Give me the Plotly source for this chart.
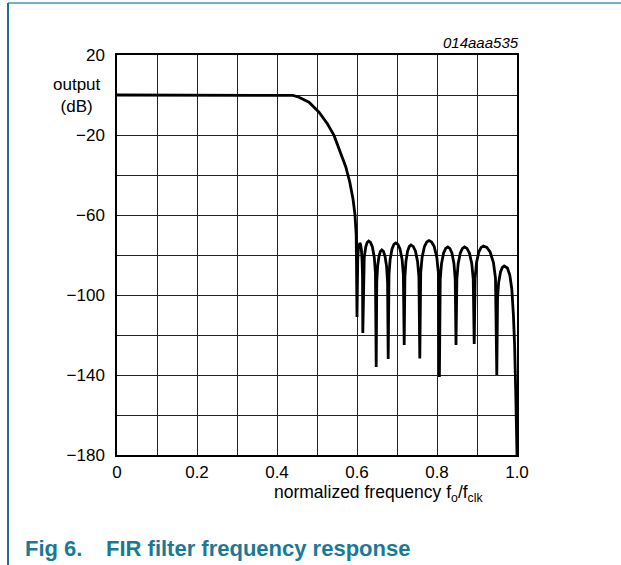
import plotly.graph_objects as go

# ---- data ----
freq = [0.0, 0.1, 0.2, 0.3, 0.4, 0.42, 0.44, 0.455, 0.48, 0.505, 0.526, 0.5425, 0.559, 0.572,
        0.582, 0.59, 0.595, 0.598, 0.600,
        0.6007, 0.6018, 0.6035, 0.6053, 0.607, 0.6089, 0.6108, 0.6126, 0.6138, 0.6145,
        0.616, 0.6181, 0.6218, 0.6254, 0.629, 0.6338, 0.6385, 0.6433, 0.6461, 0.648,
        0.6494, 0.6515, 0.655, 0.6585, 0.662, 0.666, 0.670, 0.674, 0.6764, 0.678,
        0.6799, 0.6828, 0.6875, 0.6923, 0.697, 0.7023, 0.7075, 0.7128, 0.7159, 0.718,
        0.7197, 0.7223, 0.7265, 0.7308, 0.735, 0.7405, 0.746, 0.7515, 0.7548, 0.757,
        0.7593, 0.7628, 0.7685, 0.7743, 0.780, 0.7865, 0.793, 0.7995, 0.8034, 0.806,
        0.8081, 0.8113, 0.8165, 0.8218, 0.827, 0.8321, 0.8373, 0.8424, 0.8455, 0.8475,
        0.8497, 0.8529, 0.8583, 0.8636, 0.869, 0.875, 0.881, 0.887, 0.8906, 0.893,
        0.8953, 0.8988, 0.9045, 0.9103, 0.916, 0.9244, 0.9328, 0.9411, 0.9462, 0.9495,
        0.9514, 0.9541, 0.9588, 0.9634, 0.968, 0.976, 0.982, 0.987, 0.991, 0.994, 0.997, 1.0]
gain_db = [0, 0, 0, 0, 0, 0, -0.2, -1.1, -3.6, -8.6, -14.4, -20.2, -28.6, -36,
           -43.6, -52, -60, -70, -111,
           -90, -82.3, -77, -74.7, -74, -74.7, -77, -82.3, -90, -119,
           -89, -81.3, -76, -73.7, -73, -73.7, -76, -81.3, -89, -136,
           -93.5, -85.8, -80.5, -78.2, -77.5, -78.2, -80.5, -85.8, -93.5, -132,
           -90, -82.3, -77, -74.7, -74, -74.7, -77, -82.3, -90, -125,
           -91, -83.3, -78, -75.7, -75, -75.7, -78, -83.3, -91, -131.7,
           -88.8, -81.1, -75.8, -73.5, -72.8, -73.5, -75.8, -81.1, -88.8, -141,
           -92, -84.3, -79, -76.7, -76, -76.7, -79, -84.3, -92, -125,
           -92, -84.3, -79, -76.7, -76, -76.7, -79, -84.3, -92, -124.5,
           -91.5, -83.8, -78.5, -76.2, -75.5, -76.2, -78.5, -83.8, -91.5, -140,
           -101.5, -93.8, -88.5, -86.2, -85.5, -86.5, -90, -97, -110, -125, -150, -180]

x_tickvals = [0.0, 0.2, 0.4, 0.6, 0.8, 1.0]
x_ticktext = ["0", "0.2", "0.4", "0.6", "0.8", "1.0"]
y_tickvals = [20, -20, -60, -100, -140, -180]
y_ticktext = ["20", "\u221220", "\u221260", "\u2212100", "\u2212140", "\u2212180"]

x_title = "normalized frequency f<sub>o</sub>/f<sub>clk</sub>"
y_title = "output<br>(dB)"
code_label = "014aaa535"
fig_label = "Fig 6."
fig_caption = "FIR filter frequency response"

FONT = "Liberation Sans, Arial, sans-serif"
TEAL = "#1a7994"
GRID = "#222222"

fig = go.Figure()
fig.add_trace(go.Scatter(x=freq, y=gain_db, mode="lines",
                         line=dict(color="black", width=2.8), showlegend=False,
                         hoverinfo="skip"))

axis_common = dict(showgrid=True, gridcolor=GRID, gridwidth=1,
                   showline=True, linecolor="black", linewidth=1.5, mirror=True,
                   zeroline=False, ticks="", tickfont=dict(family=FONT, size=17, color="black"))

fig.update_layout(
    width=621, height=565,
    margin=dict(l=117, r=104, t=55, b=110),
    paper_bgcolor="white", plot_bgcolor="white",
    font=dict(family=FONT, color="black"),
    xaxis=dict(range=[0, 1], tickmode="array", tickvals=x_tickvals, ticktext=x_ticktext,
               ticklabelstandoff=1,
               minor=dict(tick0=0, dtick=0.1, showgrid=True, gridcolor=GRID, gridwidth=1, ticks=""),
               **axis_common),
    yaxis=dict(range=[-180, 20], tickmode="array", tickvals=y_tickvals, ticktext=y_ticktext,
               ticklabelstandoff=7,
               minor=dict(tick0=0, dtick=20, showgrid=True, gridcolor=GRID, gridwidth=1, ticks=""),
               **axis_common),
)

fig.add_annotation(xref="paper", yref="paper", x=0.6525, y=-0.095, xanchor="center", yanchor="middle",
                   text=x_title, showarrow=False, font=dict(family=FONT, size=17.5, color="black"))
fig.add_annotation(xref="paper", yref="paper", x=-0.1, y=0.9, xanchor="center", yanchor="middle",
                   text=y_title, showarrow=False, font=dict(family=FONT, size=17, color="black"))
fig.add_annotation(xref="paper", yref="paper", x=1.01, y=1.0, xanchor="right", yanchor="bottom",
                   yshift=2, text="<i>" + code_label + "</i>", showarrow=False,
                   font=dict(family=FONT, size=15, color="black"))
fig.add_annotation(xref="paper", yref="paper", x=-0.235, y=-0.2325, xanchor="left", yanchor="middle",
                   text="<b>" + fig_label + "</b>", showarrow=False,
                   font=dict(family=FONT, size=22, color=TEAL))
fig.add_annotation(xref="paper", yref="paper", x=-0.0325, y=-0.2325, xanchor="left", yanchor="middle",
                   text="<b>" + fig_caption + "</b>", showarrow=False,
                   font=dict(family=FONT, size=22, color=TEAL))

# page frame lines (top and left)
fig.add_shape(type="line", xref="paper", yref="paper", x0=-0.2725, x1=1.27, y0=1.13, y1=1.13,
              line=dict(color="#6fb2c4", width=2))
fig.add_shape(type="line", xref="paper", yref="paper", x0=-0.2725, x1=-0.2725, y0=1.13, y1=-0.3,
              line=dict(color="#1f6f8c", width=2))

fig.write_html("out.html", config={"displayModeBar": False},
               post_script="document.body.style.margin='0';document.body.style.overflow='hidden';")
